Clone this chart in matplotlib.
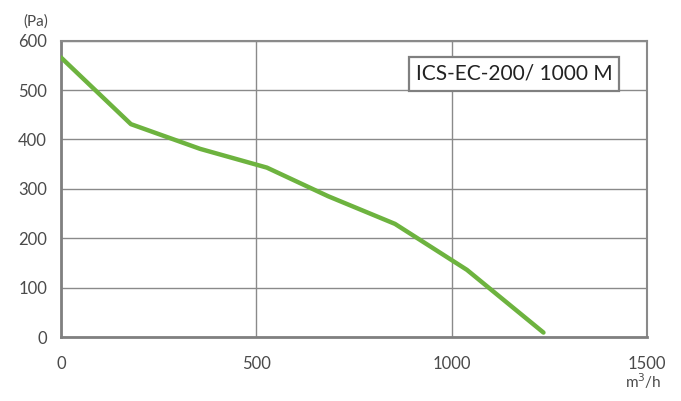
import matplotlib
matplotlib.use("Agg")
import matplotlib.pyplot as plt

# fan curve
flow = [0, 179, 356, 527, 684, 855, 1039, 1235]
pressure = [566, 431, 381, 343, 285, 229, 136, 9]

x_ticks = [0, 500, 1000, 1500]
y_ticks = [0, 100, 200, 300, 400, 500, 600]
model = "ICS-EC-200/ 1000 M"

plt.rcParams['font.family'] = ['Lato', 'DejaVu Sans']

fig = plt.figure(figsize=(6.81, 4.01), dpi=100)
ax = fig.add_axes([61/681, 1 - 337/401, (647 - 61)/681, (337 - 40.7)/401])

ax.plot(flow, pressure, color='#6db33f', lw=3.2, solid_capstyle='round',
        solid_joinstyle='round', zorder=3)

ax.set_xlim(0, 1500)
ax.set_ylim(0, 600)
ax.set_xticks(x_ticks)
ax.set_yticks(y_ticks)
ax.grid(True, color='#8a8a8a', lw=1.0)
ax.tick_params(length=0, labelsize=12, labelcolor='#4a4a4a')
ax.tick_params(axis='y', pad=10)
ax.tick_params(axis='x', pad=14)
ax.set_xticklabels([str(v) for v in x_ticks])

for side in ['left', 'bottom']:
    ax.spines[side].set_color('#808080')
    ax.spines[side].set_linewidth(2.0)
for side in ['top', 'right']:
    ax.spines[side].set_color('#8a8a8a')
    ax.spines[side].set_linewidth(1.5)

fig.text(36/681, 1 - 22/401, '(Pa)', ha='center', va='center',
         fontsize=11, color='#4a4a4a')
fig.text(643/681, 1 - 381/401, 'm$^3$/h', ha='center', va='center',
         fontsize=11, color='#4a4a4a')

ax.text(0.773, 0.888, model, transform=ax.transAxes, ha='center', va='center',
        fontsize=15, color='#222222',
        bbox=dict(boxstyle='square,pad=0.33', fc='white', ec='#808080', lw=1.6))

fig.savefig('out.png', dpi=100)
